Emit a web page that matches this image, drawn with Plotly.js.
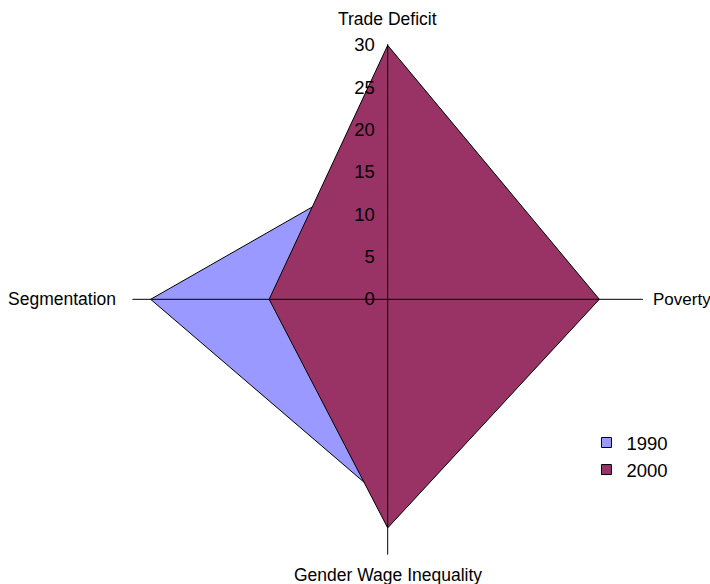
<!DOCTYPE html>
<html>
<head>
<meta charset="utf-8">
<script src="https://cdn.plot.ly/plotly-3.0.1.min.js"></script>
<style>html,body{margin:0;padding:0;background:#fff;}#chart{width:710px;height:584px;}</style>
</head>
<body>
<div id="chart"></div>
<script>
const categories = ["Trade Deficit", "Poverty", "Gender Wage Inequality", "Segmentation"];
const values1990 = [16, 20, 24, 28];
const values2000 = [30, 25, 27, 14];
const seriesNames = ["1990", "2000"];
const radialTicks = [0, 5, 10, 15, 20, 25, 30];

const FONT = "Liberation Sans, Arial, sans-serif";
const closeLoop = a => a.concat([a[0]]);

const traces = [
  {
    type: "scatterpolar", r: closeLoop(values1990), theta: closeLoop(categories),
    mode: "lines", fill: "toself", fillcolor: "#9999FF",
    line: {color: "#000000", width: 1}, showlegend: false, hoverinfo: "skip", name: seriesNames[0]
  },
  {
    type: "scatterpolar", r: closeLoop(values2000), theta: closeLoop(categories),
    mode: "lines", fill: "toself", fillcolor: "#993366",
    line: {color: "#000000", width: 1}, showlegend: false, hoverinfo: "skip", name: seriesNames[1]
  },
  // axis spokes (drawn above the filled areas, like the original)
  {
    type: "scatterpolar", r: [30.2, 0, 30.2], theta: [categories[0], categories[0], categories[2]],
    mode: "lines", line: {color: "#000000", width: 1}, showlegend: false, hoverinfo: "skip", cliponaxis: false
  },
  {
    type: "scatterpolar", r: [31.3, 0, 30.2], theta: [categories[3], categories[3], categories[1]],
    mode: "lines", line: {color: "#000000", width: 1}, showlegend: false, hoverinfo: "skip", cliponaxis: false
  },
  // legend entries
  {
    type: "scatterpolar", r: [null], theta: [categories[0]], mode: "markers", name: seriesNames[0],
    marker: {symbol: "square", size: 10, color: "#9999FF", line: {color: "#000000", width: 1}}, hoverinfo: "skip"
  },
  {
    type: "scatterpolar", r: [null], theta: [categories[0]], mode: "markers", name: seriesNames[1],
    marker: {symbol: "square", size: 10, color: "#993366", line: {color: "#000000", width: 1}}, hoverinfo: "skip"
  }
];

// category labels placed around the outside of the radar
const labelFont = {family: FONT, size: 17.5, color: "#000000"};
const annotations = [
  {text: categories[0], x: 0.546, y: 0.9675, xanchor: "center", yanchor: "middle"},
  {text: categories[1], x: 0.917, y: 0.4875, xanchor: "left", yanchor: "middle", font: {family: FONT, size: 17, color: "#000000"}},
  {text: categories[2], x: 0.546, y: 0.0154, xanchor: "center", yanchor: "middle"},
  {text: categories[3], x: 0.1662, y: 0.4875, xanchor: "right", yanchor: "middle"}
].map(a => Object.assign({xref: "paper", yref: "paper", showarrow: false, font: labelFont}, a));

const layout = {
  width: 710, height: 584,
  margin: {l: 0, r: 0, t: 0, b: 0},
  paper_bgcolor: "#ffffff",
  font: {family: FONT, color: "#000000", size: 17.5},
  showlegend: true,
  legend: {x: 0.826, y: 0.274, xanchor: "left", yanchor: "top", font: {size: 18.5}, bgcolor: "rgba(0,0,0,0)", itemwidth: 30, tracegroupgap: 0},
  annotations: annotations,
  polar: {
    domain: {x: [0.1859, 0.9062], y: [0.0497, 0.9253]},
    bgcolor: "rgba(0,0,0,0)",
    gridshape: "linear",
    radialaxis: {
      range: [0, 30.2], angle: 90, tickangle: 90, side: "counterclockwise",
      tickvals: radialTicks, ticktext: radialTicks.map(String),
      showgrid: false, showline: false, ticks: "outside", ticklen: 6, tickcolor: "rgba(0,0,0,0)", layer: "above traces",
      tickfont: {size: 18.5, family: FONT, color: "#000000"}
    },
    angularaxis: {
      type: "category", categoryarray: categories, direction: "clockwise", rotation: 90,
      showgrid: false, showline: false, ticks: "", showticklabels: false
    }
  }
};

Plotly.newPlot("chart", traces, layout, {displayModeBar: false, staticPlot: true});
</script>
</body>
</html>
